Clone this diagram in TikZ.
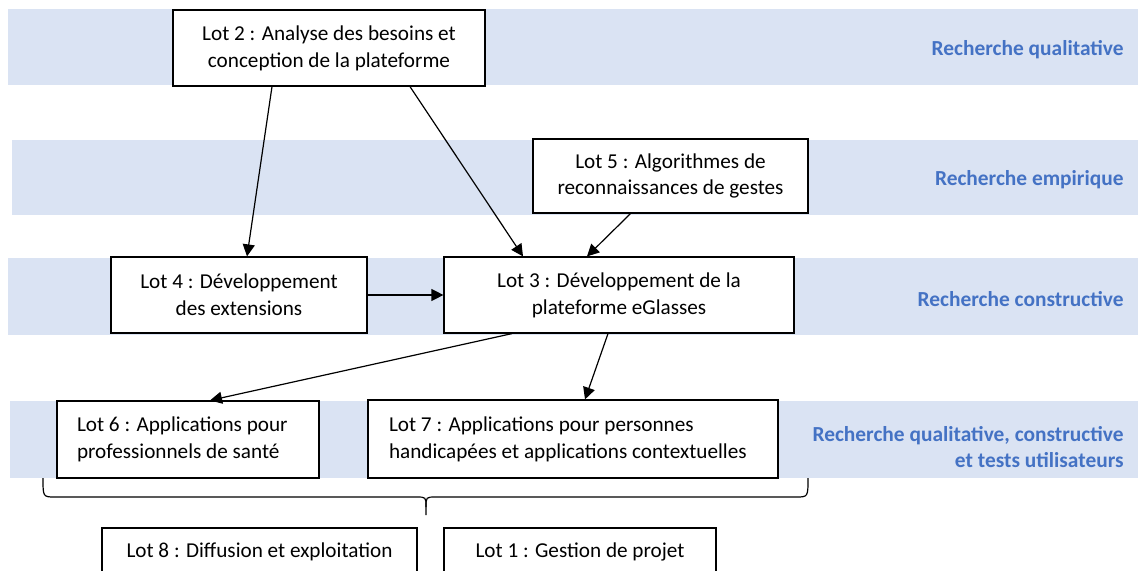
\documentclass[tikz,border=0pt]{standalone}
\usepackage{fontspec}
\setmainfont{Carlito}
\usetikzlibrary{arrows.meta}
\definecolor{bandblue}{HTML}{DAE3F3}
\definecolor{labelblue}{HTML}{4472C4}
\begin{document}
\begin{tikzpicture}[x=0.5pt,y=-0.5pt,
	lot/.style={draw,fill=white,line width=0.6pt,align=center,inner sep=0pt,font=\fontsize{10.6}{13.4}\selectfont},
	lotleft/.style={lot,align=flush left,inner xsep=10pt},
	band/.style={fill=bandblue},
	research/.style={anchor=east,align=right,inner sep=0pt,text=labelblue,font=\fontsize{10.7}{13}\selectfont\bfseries},
	link/.style={-{Triangle[length=6pt,width=6pt]},line width=0.6pt}]
	% page
		\clip (0,0) rectangle (1138,571);
	% bands
		\fill[band] (8,9) rectangle (1138,85);
		\fill[band] (12,140) rectangle (1138,215);
		\fill[band] (8,258) rectangle (1138,335);
		\fill[band] (10,401) rectangle (1138,478);
	% research labels
		\node[research] (rqual) at (1124,50) {Recherche qualitative};
		\node[research] (rempi) at (1124,180) {Recherche empirique};
		\node[research] (rcons) at (1124,299) {Recherche constructive};
		\node[research] (rtest) at (1124,447) {Recherche qualitative, constructive\\et tests utilisateurs};
	% work packages
		\node[lot,minimum width=156pt,minimum height=38pt] (lot2) at (329,48) {Lot 2 : Analyse des besoins et\\conception de la plateforme};
		\node[lot,minimum width=137.5pt,minimum height=37pt] (lot5) at (670.5,176) {Lot 5 : Algorithmes de\\reconnaissances de gestes};
		\node[lot,minimum width=128pt,minimum height=38pt] (lot4) at (239,295) {Lot 4 : Développement\\des extensions};
		\node[lot,minimum width=175pt,minimum height=38pt] (lot3) at (619,295) {Lot 3 : Développement de la\\plateforme eGlasses};
		\node[lotleft,text width=111pt,minimum height=38.5pt] (lot6) at (188,439.5) {Lot 6 : Applications pour\\professionnels de santé};
		\node[lotleft,inner xsep=10.5pt,text width=184pt,minimum height=39pt] (lot7) at (573,439) {Lot 7 : Applications pour personnes\\handicapées et applications contextuelles};
		\node[lot,minimum width=157.5pt,minimum height=24pt] (lot8) at (259.5,552) {Lot 8 : Diffusion et exploitation};
		\node[lot,minimum width=136pt,minimum height=24pt] (lot1) at (580,552) {Lot 1 : Gestion de projet};
	% dependencies
		\draw[link] ([xshift=-28.5pt]lot2.south) -- ([xshift=4pt]lot4.north);
		\draw[link] ([xshift=40.5pt]lot2.south) -- ([xshift=-48pt]lot3.north);
		\draw[link] ([xshift=-20pt]lot5.south) -- ([xshift=-16pt]lot3.north);
		\draw[link] (lot4.east) -- (lot3.west);
		\draw[link] ([xshift=-53.5pt]lot3.south) -- ([xshift=11pt]lot6.north);
		\draw[link] ([xshift=-5.5pt]lot3.south) -- ([xshift=6pt]lot7.north);
	% brace over lots 6 and 7
		\coordinate (bleft) at (43,478);
		\coordinate (bright) at (808,478);
		\coordinate (btip) at (426,515);
		\draw[line width=0.6pt] (bleft) .. controls (43,497) .. (55,497) -- (416,497) .. controls (426,497) .. (426,507) -- (btip);
		\draw[line width=0.6pt] (426,507) .. controls (426,497) .. (436,497) -- (796,497) .. controls (808,497) .. (bright);
\end{tikzpicture}
\end{document}
